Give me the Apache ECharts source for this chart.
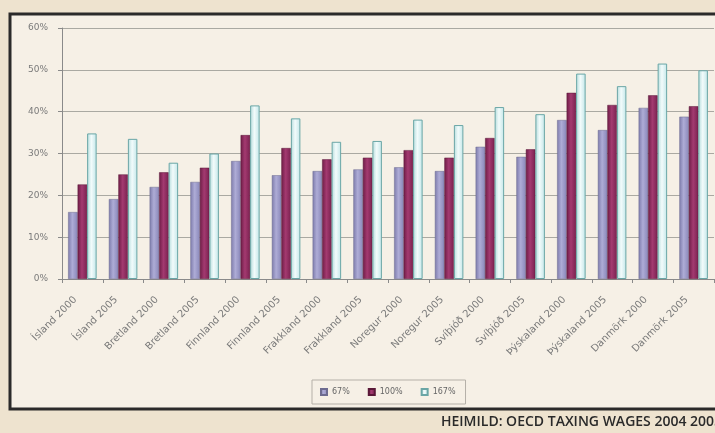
<!DOCTYPE html>
<html>
<head>
<meta charset="utf-8">
<script src="https://cdn.jsdelivr.net/npm/echarts@6/dist/echarts.min.js"></script>
<style>
  html, body { margin: 0; padding: 0; background: #eee3cf; }
  #chart { width: 715px; height: 433px; }
</style>
</head>
<body>
<div id="chart"></div>
<script>
var categories = ['Ísland 2000', 'Ísland 2005', 'Bretland 2000', 'Bretland 2005',
  'Finnland 2000', 'Finnland 2005', 'Frakkland 2000', 'Frakkland 2005',
  'Noregur 2000', 'Noregur 2005', 'Svíþjóð 2000', 'Svíþjóð 2005',
  'Þýskaland 2000', 'Þýskaland 2005', 'Danmörk 2000', 'Danmörk 2005'];
var seriesNames = ['67%', '100%', '167%'];
var low = [16.0, 19.1, 22.0, 23.2, 28.2, 24.8, 25.8, 26.2, 26.7, 25.8, 31.6, 29.2, 38.0, 35.6, 40.9, 38.8];
var mid = [22.6, 25.0, 25.5, 26.6, 34.4, 31.3, 28.6, 29.0, 30.8, 29.0, 33.7, 31.0, 44.5, 41.6, 43.9, 41.3];
var high = [34.8, 33.5, 27.8, 30.0, 41.5, 38.4, 32.8, 33.0, 38.1, 36.8, 41.1, 39.4, 49.1, 46.1, 51.5, 49.9];
var yTicks = [0, 10, 20, 30, 40, 50, 60];

function grad(a, b, c) {
  return new echarts.graphic.LinearGradient(0, 0, 1, 0, [
    { offset: 0, color: a }, { offset: 0.45, color: b }, { offset: 1, color: c }
  ]);
}

var myChart = echarts.init(document.getElementById('chart'));
var option = {
  backgroundColor: '#eee3cf',
  animation: false,
  graphic: [
    { type: 'rect', z: -10, shape: { x: 11, y: 15, width: 720, height: 395 },
      style: { fill: '#b9b2a6' } },
    { type: 'rect', z: -9, shape: { x: 10, y: 14, width: 720, height: 395 },
      style: { fill: '#f6f0e6', stroke: '#2b2a2a', lineWidth: 3 } },
    { type: 'text', left: 441, top: 415,
      style: { text: 'HEIMILD: OECD TAXING WAGES 2004 2005', fill: '#2a2a2a',
        font: '600 14px "Open Sans", sans-serif' } }
  ],
  legend: {
    data: seriesNames,
    left: 312, top: 380,
    itemWidth: 6, itemHeight: 6, itemGap: 18,
    padding: [8, 10, 8, 8],
    borderColor: '#b5b0a8', borderWidth: 1,
    icon: 'rect',
    textStyle: { fontSize: 8, color: '#666', fontFamily: 'DejaVu Sans' }
  },
  grid: { left: 62, top: 28, right: 1, bottom: 154 },
  xAxis: {
    type: 'category',
    data: categories,
    axisLine: { lineStyle: { color: '#8a8a8a' } },
    axisTick: { show: true, length: 4, lineStyle: { color: '#8a8a8a' } },
    axisLabel: { rotate: 45, margin: 12, padding: [0, 10, 0, 0], fontSize: 10,
      color: '#7a7a7a', interval: 0, fontFamily: 'DejaVu Sans' }
  },
  yAxis: {
    type: 'value',
    min: yTicks[0], max: yTicks[yTicks.length - 1], interval: 10,
    axisLine: { show: true, lineStyle: { color: '#8a8a8a' } },
    axisTick: { show: true, length: 4, lineStyle: { color: '#8a8a8a' } },
    splitLine: { lineStyle: { color: '#aaa9a2' } },
    axisLabel: { formatter: '{value}%', fontSize: 9, color: '#7a7a7a', margin: 14,
      fontFamily: 'DejaVu Sans' }
  },
  series: [
    { name: seriesNames[0], type: 'bar', data: low, barGap: '0%', barCategoryGap: '30%',
      itemStyle: { color: grad('#7d7bab', '#aeacd6', '#8987b9'), borderColor: '#6e6c90', borderWidth: 0.5 } },
    { name: seriesNames[1], type: 'bar', data: mid,
      itemStyle: { color: grad('#6e1c46', '#a33a70', '#7a2150'), borderColor: '#5a1838', borderWidth: 0.5 } },
    { name: seriesNames[2], type: 'bar', data: high,
      itemStyle: { color: grad('#b4dcdc', '#f2fbfb', '#c2e6e8'), borderColor: '#6aa6a6', borderWidth: 1 } }
  ]
};
myChart.setOption(option);
</script>
</body>
</html>
